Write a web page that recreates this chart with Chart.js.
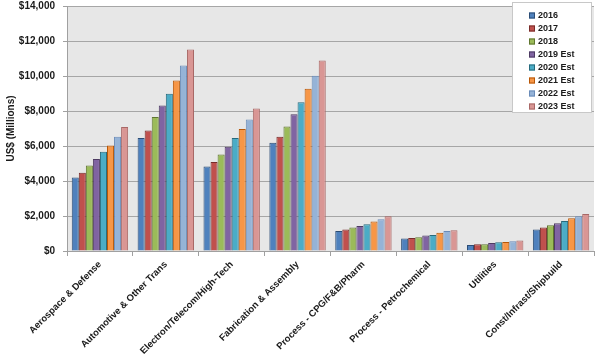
<!DOCTYPE html>
<html>
<head>
<meta charset="utf-8">
<script src="https://cdn.jsdelivr.net/npm/chart.js@4/dist/chart.umd.min.js"></script>
<style>
  html, body { margin: 0; padding: 0; background: #ffffff; }
  #wrap { width: 600px; height: 356px; position: relative; }
</style>
</head>
<body>
<div id="wrap"><canvas id="c" width="600" height="356"></canvas></div>
<script>
// ---- data (US$ millions) ----
const categories = ["Aerospace & Defense", "Automotive & Other Trans", "Electron/Telecom/High-Tech",
  "Fabrication & Assembly", "Process - CPG/F&B/Pharm", "Process - Petrochemical", "Utilities",
  "Const/Infrast/Shipbuild"];
const seriesLabels = ["2016", "2017", "2018", "2019 Est", "2020 Est", "2021 Est", "2022 Est", "2023 Est"];
const v2016 = [4200, 6460, 4830, 6190, 1150, 710, 340, 1230];
const v2017 = [4470, 6890, 5080, 6530, 1230, 750, 380, 1340];
const v2018 = [4890, 7660, 5520, 7120, 1340, 790, 380, 1470];
const v2019 = [5260, 8310, 5960, 7810, 1430, 880, 460, 1590];
const v2020 = [5670, 8980, 6460, 8500, 1530, 920, 500, 1720];
const v2021 = [6030, 9740, 6970, 9270, 1680, 1050, 520, 1870];
const v2022 = [6530, 10600, 7520, 10010, 1810, 1150, 560, 1990];
const v2023 = [7090, 11520, 8150, 10890, 1980, 1190, 600, 2120];
const yTicks = [0, 2000, 4000, 6000, 8000, 10000, 12000, 14000];

const seriesValues = [v2016, v2017, v2018, v2019, v2020, v2021, v2022, v2023];
const fillColors = ["#4F81BD", "#C0504D", "#9BBB59", "#8064A2", "#4BACC6", "#F79646", "#95B3D7", "#D99694"];
const edgeColors = ["#2C4D75", "#772C2A", "#5F7530", "#4D3B62", "#276A7C", "#B65708", "#6A8BB8", "#A86866"];

const datasets = seriesLabels.map((lab, i) => ({
  label: lab,
  data: seriesValues[i],
  backgroundColor: fillColors[i],
  borderColor: edgeColors[i],
  borderWidth: 1,
  borderSkipped: 'bottom',
  categoryPercentage: 0.856,
  barPercentage: 1.0
}));

const plotBg = {
  id: 'plotBg',
  beforeDraw(chart) {
    const a = chart.chartArea, ctx = chart.ctx;
    ctx.save();
    ctx.fillStyle = '#E7E7E7';
    ctx.fillRect(a.left, a.top, a.right - a.left, a.bottom - a.top);
    ctx.restore();
  }
};

const overlayLegend = {
  id: 'overlayLegend',
  afterDraw(chart) {
    const ctx = chart.ctx;
    const x0 = 512, y0 = 2, w = 80, h = 111;
    ctx.save();
    ctx.fillStyle = '#ffffff';
    ctx.fillRect(x0, y0, w, h);
    ctx.strokeStyle = '#C8C8C8';
    ctx.lineWidth = 1;
    ctx.strokeRect(x0 + 0.5, y0 + 0.5, w - 1, h - 1);
    ctx.font = 'bold 9px "Liberation Sans", Arial, sans-serif';
    ctx.textBaseline = 'middle';
    ctx.textAlign = 'left';
    chart.data.datasets.forEach((ds, i) => {
      const cy = 15.5 + i * 13.0;
      ctx.fillStyle = ds.backgroundColor;
      ctx.fillRect(529, cy - 3, 6, 6);
      ctx.strokeStyle = ds.borderColor;
      ctx.strokeRect(529.5, cy - 2.5, 5, 5);
      ctx.fillStyle = '#1a1a1a';
      ctx.fillText(ds.label, 538, cy + 0.5);
    });
    ctx.restore();
  }
};

new Chart(document.getElementById('c'), {
  type: 'bar',
  data: { labels: categories, datasets: datasets },
  plugins: [plotBg, overlayLegend],
  options: {
    responsive: false,
    animation: false,
    devicePixelRatio: 1,
    layout: { padding: { top: 0, right: 6, left: 0, bottom: 0 } },
    plugins: {
      legend: { display: false },
      tooltip: { enabled: false }
    },
    scales: {
      x: {
        offset: true,
        grid: {
          offset: true,
          drawOnChartArea: false,
          drawTicks: true,
          tickLength: 5,
          color: '#A0A0A0',
          tickColor: '#A0A0A0'
        },
        border: { display: true, color: '#A0A0A0', width: 1 },
        ticks: {
          autoSkip: false,
          maxRotation: 45,
          minRotation: 45,
          padding: 3,
          color: '#1a1a1a',
          font: { family: '"Liberation Sans", Arial, sans-serif', size: 9.5, weight: 'bold' }
        },
        afterFit(scale) { scale.height = 105; }
      },
      y: {
        min: 0,
        max: 14000,
        afterBuildTicks(scale) { scale.ticks = yTicks.map(v => ({ value: v })); },
        grid: {
          color: '#A6A6A6',
          lineWidth: 1,
          drawTicks: true,
          tickLength: 4,
          tickColor: '#A0A0A0'
        },
        border: { display: true, color: '#A0A0A0', width: 1 },
        ticks: {
          padding: 8,
          color: '#1a1a1a',
          font: { family: '"Liberation Sans", Arial, sans-serif', size: 10, weight: 'bold' },
          callback: (v) => '$' + Number(v).toLocaleString('en-US')
        },
        title: {
          display: true,
          text: 'US$ (Millions)',
          color: '#1a1a1a',
          padding: { top: 5, bottom: 0 },
          font: { family: '"Liberation Sans", Arial, sans-serif', size: 10, weight: 'bold' }
        },
        afterFit(scale) {
          scale.width = 67;
          scale.paddingTop = 6;
          scale.paddingBottom = 0;
        }
      }
    }
  }
});
</script>
</body>
</html>
